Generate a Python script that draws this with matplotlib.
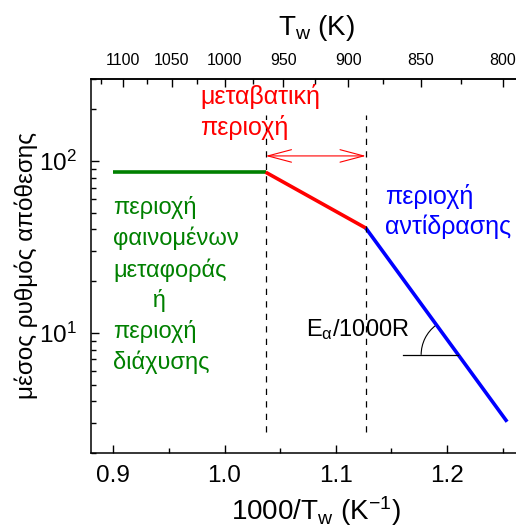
import numpy as np
import matplotlib
matplotlib.use("Agg")
import matplotlib.pyplot as plt
import matplotlib.transforms as mtransforms
from matplotlib.patches import Arc
from matplotlib.ticker import FixedLocator, NullFormatter

plt.rcParams["font.family"] = ["Liberation Sans", "DejaVu Sans"]
plt.rcParams["mathtext.fontset"] = "custom"
plt.rcParams["mathtext.rm"] = "Liberation Sans"
plt.rcParams["mathtext.it"] = "Liberation Sans:italic"
plt.rcParams["mathtext.default"] = "regular"

# 1000/Tw at the region boundaries and mean deposition rate
inv_temp = [0.9, 1.037, 1.127, 1.254]
rate = [86, 86, 40.7, 3.04]
region_colors = ["#008000", "#ff0000", "#0000ff"]

top_ticks = [1100, 1050, 1000, 950, 900, 850, 800]
top_minor = [1125, 1075, 1025, 975, 925, 875, 825]
bottom_ticks = [0.9, 1.0, 1.1, 1.2]

fig = plt.figure(figsize=(5.16, 5.30), dpi=100)
ax = fig.add_axes([0.1764, 0.1453, 0.8236, 0.7057])

for i, c in enumerate(region_colors):
    ax.plot(inv_temp[i:i + 2], rate[i:i + 2], color=c, lw=2.6, solid_capstyle="butt")

ax.set_yscale("log")
ax.set_xlim(0.88, 1.262)
ax.set_ylim(2.0, 300)

# region boundaries
for xb in inv_temp[1:3]:
    ax.plot([xb, xb], [2.65, 185], color="black", lw=0.9, ls=(0, (5, 5)))

ax.annotate("", xy=(inv_temp[1], 107), xytext=(inv_temp[2], 107),
            arrowprops=dict(arrowstyle="<->,head_length=1.7,head_width=0.45",
                            color="#ff0000", lw=0.8, shrinkA=0, shrinkB=0))

ax.text(0.978, 192, "μεταβατική\nπεριοχή", color="#ff0000", fontsize=18,
        ha="left", va="center", linespacing=1.3)
ax.text(1.144, 51, "περιοχή\nαντίδρασης", color="#0000ff", fontsize=18,
        ha="left", va="center", linespacing=1.3)
ax.text(0.9, 19.0, "περιοχή\nφαινομένων\nμεταφοράς\n      ή\nπεριοχή\nδιάχυσης",
        color="#008000", fontsize=17, ha="left", va="center", linespacing=1.42)
ax.text(1.073, 10.5, "E$_{α}$/1000R", color="black", fontsize=17,
        ha="left", va="center")

# slope marker on the blue segment
x0, y0 = 1.210, 7.45
ax.plot([1.160, x0], [y0, y0], color="black", lw=0.9)
trans = fig.dpi_scale_trans + mtransforms.ScaledTranslation(x0, y0, ax.transData)
ax.add_patch(Arc((0, 0), 0.74, 0.74, theta1=127, theta2=180, transform=trans,
                 color="black", lw=0.8))

ax.set_xticks(bottom_ticks)
ax.set_xticklabels(["0.9", "1.0", "1.1", "1.2"])
ax.xaxis.set_minor_locator(FixedLocator([0.95, 1.05, 1.15, 1.25]))
ax.tick_params(which="both", direction="in", labelsize=17.5, width=1.0)
ax.tick_params(which="major", length=6, pad=9)
ax.tick_params(which="minor", length=3.5)
ax.tick_params(axis="y", pad=10)
ax.spines["right"].set_visible(False)
for s in ["left", "bottom", "top"]:
    ax.spines[s].set_linewidth(1.1)

ax.set_xlabel("1000/T$_{w}$ (K$^{-1}$)", fontsize=20, labelpad=5)
ax.xaxis.label.set_x(0.53)
ax.set_ylabel("μέσος ρυθμός απόθεσης", fontsize=17.5)
ax.yaxis.set_label_coords(-0.125, 0.5)

sec = ax.secondary_xaxis("top", functions=(lambda x: 1000 / x, lambda t: 1000 / t))
sec.set_xticks(top_ticks)
sec.set_xticklabels([str(t) for t in top_ticks])
sec.xaxis.set_minor_locator(FixedLocator(top_minor))
sec.xaxis.set_minor_formatter(NullFormatter())
sec.tick_params(which="both", direction="in", labelsize=11.5, width=1.0)
sec.tick_params(which="major", length=6, pad=8)
sec.tick_params(which="minor", length=3.5)
sec.spines["top"].set_linewidth(1.1)
sec.set_xlabel("T$_{w}$ (K)", fontsize=20, labelpad=13)
sec.xaxis.label.set_x(0.53)

fig.savefig("out.png", dpi=100)
